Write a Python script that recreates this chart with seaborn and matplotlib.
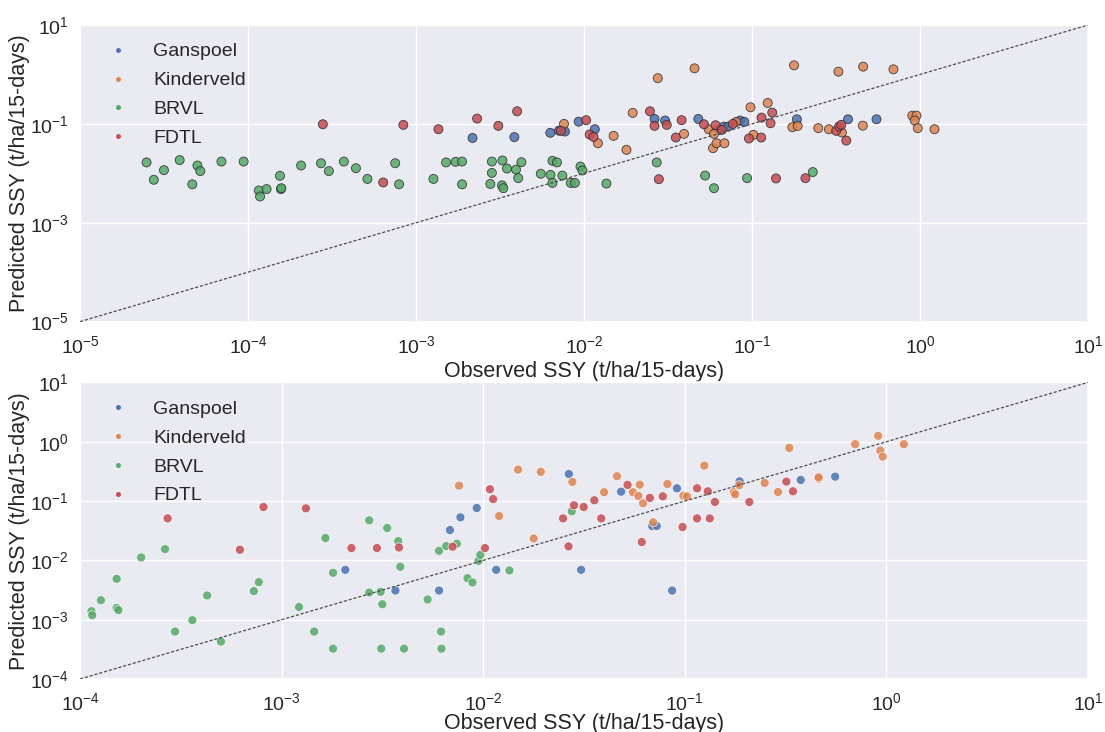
import numpy as np
import pandas as pd
import matplotlib
matplotlib.use("Agg")
import matplotlib.pyplot as plt
from matplotlib.ticker import FixedLocator, NullLocator, LogFormatterSciNotation
import seaborn as sns

# ---------------------------------------------------------------------------
# Calibration run: observed vs predicted SSY (t/ha/15-days)
# ---------------------------------------------------------------------------
sites = ["Ganspoel", "Kinderveld", "BRVL", "FDTL"]

cal_ganspoel_obs = [2.17e-3, 3.85e-3, 6.3e-3, 7.1e-3, 7.7e-3, 9.3e-3, 0.0116, 0.0263, 0.0304,
                    0.0479, 0.0637, 0.068, 0.072, 0.085, 0.090, 0.185, 0.373, 0.551]
cal_ganspoel_pred = [0.052, 0.054, 0.066, 0.073, 0.070, 0.111, 0.078, 0.126, 0.117,
                     0.126, 0.0757, 0.088, 0.088, 0.117, 0.110, 0.124, 0.124, 0.124]

cal_kinderveld_obs = [7.6e-3, 0.0121, 0.0150, 0.0179, 0.0195, 0.0275, 0.0394, 0.0455, 0.0552,
                      0.0586, 0.0594, 0.0615, 0.0685, 0.0807, 0.098, 0.102, 0.124, 0.174,
                      0.178, 0.187, 0.248, 0.287, 0.327, 0.343, 0.457, 0.459, 0.695, 0.90,
                      0.953, 0.93, 0.97, 1.22]
cal_kinderveld_pred = [0.100, 0.0406, 0.0573, 0.0299, 0.167, 0.84, 0.0628, 1.33, 0.078,
                       0.0323, 0.0628, 0.0406, 0.0406, 0.110, 0.217, 0.060, 0.265, 0.0857,
                       1.53, 0.091, 0.082, 0.078, 1.14, 0.067, 0.092, 1.44, 1.27, 0.147,
                       0.147, 0.117, 0.082, 0.078]

cal_brvl_obs = [2.49e-5, 2.75e-5, 3.16e-5, 3.92e-5, 4.66e-5, 5.0e-5, 5.2e-5, 6.95e-5, 9.42e-5,
                1.16e-4, 1.18e-4, 1.29e-4, 1.55e-4, 1.57e-4, 1.58e-4, 2.07e-4, 2.72e-4, 3.03e-4,
                3.72e-4, 4.39e-4, 5.14e-4, 7.52e-4, 7.93e-4, 1.27e-3, 1.51e-3, 1.72e-3, 1.88e-3,
                1.88e-3, 2.83e-3, 2.83e-3, 2.77e-3, 3.27e-3, 3.25e-3, 3.31e-3, 3.48e-3, 3.94e-3,
                4.06e-3, 4.24e-3, 5.53e-3, 6.32e-3, 6.49e-3, 6.9e-3, 6.49e-3, 7.43e-3, 8.34e-3,
                8.83e-3, 9.53e-3, 9.79e-3, 0.0136, 0.0271, 0.0526, 0.0594, 0.0935, 0.230]
cal_brvl_pred = [0.0166, 0.0074, 0.0116, 0.0185, 0.0060, 0.0144, 0.0111, 0.0173, 0.0173,
                 0.0045, 0.0034, 0.0048, 0.0089, 0.0048, 0.0050, 0.0144, 0.0160, 0.0111,
                 0.0173, 0.0127, 0.0077, 0.0160, 0.0060, 0.0077, 0.0166, 0.0171, 0.0173,
                 0.0060, 0.0173, 0.0102, 0.0061, 0.0182, 0.0057, 0.0050, 0.0125, 0.0119,
                 0.0080, 0.0168, 0.0098, 0.0093, 0.0179, 0.0166, 0.0064, 0.0090, 0.0064,
                 0.0064, 0.0137, 0.0114, 0.0062, 0.0166, 0.0090, 0.0050, 0.0080, 0.0106]

cal_fdtl_obs = [2.79e-4, 8.41e-4, 1.36e-3, 2.31e-3, 3.09e-3, 4.0e-3, 6.38e-4, 7.29e-3, 0.0103,
                0.0108, 0.0114, 0.0247, 0.0263, 0.0279, 0.0311, 0.0352, 0.0381, 0.0518,
                0.0607, 0.0662, 0.0769, 0.0959, 0.1135, 0.114, 0.129, 0.132, 0.139, 0.208,
                0.317, 0.330, 0.340, 0.364]
cal_fdtl_pred = [0.0984, 0.0955, 0.078, 0.128, 0.0912, 0.180, 0.00653, 0.0724, 0.119,
                 0.061, 0.0546, 0.180, 0.0912, 0.00762, 0.0955, 0.053, 0.119, 0.0984,
                 0.094, 0.0757, 0.100, 0.0506, 0.053, 0.134, 0.103, 0.169, 0.00787, 0.00798,
                 0.0723, 0.0883, 0.0955, 0.046]

# ---------------------------------------------------------------------------
# Validation run
# ---------------------------------------------------------------------------
val_ganspoel_obs = [2.07e-3, 3.67e-3, 6.04e-3, 6.84e-3, 7.71e-3, 9.29e-3, 0.0116, 0.0266, 0.0306,
                    0.0483, 0.0689, 0.0726, 0.0865, 0.0914, 0.187, 0.376, 0.557]
val_ganspoel_pred = [6.93e-3, 3.1e-3, 3.1e-3, 0.0324, 0.0531, 0.0764, 6.93e-3, 0.286, 6.93e-3,
                     0.144, 0.0379, 0.0379, 3.1e-3, 0.164, 0.215, 0.227, 0.258]

val_kinderveld_obs = [7.59e-3, 0.0120, 0.0149, 0.0178, 0.0193, 0.0277, 0.0398, 0.0461, 0.0553,
                      0.0589, 0.0598, 0.0621, 0.0697, 0.082, 0.0984, 0.1026, 0.125, 0.175,
                      0.178, 0.186, 0.249, 0.290, 0.330, 0.461, 0.461, 0.70, 0.91, 0.933,
                      0.959, 1.22]
val_kinderveld_pred = [0.182, 0.056, 0.339, 0.0234, 0.31, 0.21, 0.141, 0.262, 0.141,
                       0.122, 0.189, 0.0916, 0.0438, 0.194, 0.123, 0.120, 0.396, 0.141,
                       0.130, 0.185, 0.202, 0.142, 0.787, 0.239, 0.251, 0.908, 1.26, 0.71,
                       0.562, 0.908]

val_brvl_obs = [1.14e-4, 1.15e-4, 1.27e-4, 1.52e-4, 1.55e-4, 1.52e-4, 2.01e-4, 2.64e-4, 2.96e-4,
                3.61e-4, 4.27e-4, 5.0e-4, 7.28e-4, 7.71e-4, 1.22e-3, 1.45e-3, 1.65e-3, 1.8e-3,
                1.8e-3, 2.72e-3, 2.72e-3, 3.1e-3, 3.16e-3, 3.12e-3, 3.34e-3, 3.79e-3, 3.88e-3,
                4.05e-3, 5.3e-3, 6.04e-3, 6.18e-3, 6.21e-3, 6.55e-3, 7.4e-3, 8.36e-3, 8.85e-3,
                9.48e-3, 9.68e-3, 0.0135, 0.0275]
val_brvl_pred = [1.39e-3, 1.19e-3, 2.13e-3, 1.58e-3, 1.45e-3, 4.89e-3, 0.0112, 0.0155, 6.31e-4,
                 9.8e-4, 2.56e-3, 4.28e-4, 3.03e-3, 4.3e-3, 1.64e-3, 6.31e-4, 0.0238, 6.18e-3,
                 3.25e-4, 0.0473, 2.87e-3, 2.95e-3, 1.82e-3, 3.25e-4, 0.0351, 0.0211, 7.8e-3,
                 3.25e-4, 2.19e-3, 0.0145, 6.31e-4, 3.25e-4, 0.0174, 0.0191, 5.01e-3, 4.24e-3,
                 9.84e-3, 0.0124, 6.76e-3, 0.0671]

val_fdtl_obs = [2.72e-4, 6.21e-4, 8.13e-4, 1.32e-3, 2.22e-3, 2.97e-3, 3.82e-3, 7.05e-3, 0.0102,
                0.0108, 0.0112, 0.0249, 0.0282, 0.0265, 0.0315, 0.0356, 0.0385, 0.052,
                0.0612, 0.0671, 0.0778, 0.0975, 0.115, 0.115, 0.130, 0.133, 0.141, 0.209,
                0.319, 0.344]
val_fdtl_pred = [0.051, 0.0151, 0.0794, 0.0753, 0.0161, 0.0161, 0.0165, 0.017, 0.0161,
                 0.158, 0.108, 0.051, 0.0847, 0.0172, 0.0794, 0.103, 0.051, 0.187,
                 0.0204, 0.113, 0.120, 0.0365, 0.164, 0.051, 0.146, 0.051, 0.0964, 0.0964,
                 0.213, 0.146]

x_label = "Observed SSY (t/ha/15-days)"
y_label = "Predicted SSY (t/ha/15-days)"


def build_frame(groups):
    frames = []
    for site, (obs, pred) in zip(sites, groups):
        frames.append(pd.DataFrame({"obs": obs, "pred": pred, "site": site}))
    return pd.concat(frames, ignore_index=True)


cal_df = build_frame([(cal_ganspoel_obs, cal_ganspoel_pred),
                      (cal_kinderveld_obs, cal_kinderveld_pred),
                      (cal_brvl_obs, cal_brvl_pred),
                      (cal_fdtl_obs, cal_fdtl_pred)])
val_df = build_frame([(val_ganspoel_obs, val_ganspoel_pred),
                      (val_kinderveld_obs, val_kinderveld_pred),
                      (val_brvl_obs, val_brvl_pred),
                      (val_fdtl_obs, val_fdtl_pred)])

sns.set_theme(style="darkgrid")
plt.rcParams["font.family"] = ["Liberation Sans", "DejaVu Sans"]
plt.rcParams["mathtext.default"] = "regular"

palette = sns.color_palette("deep", 4)
fs_tick = 14
fs_label = 15.5
fs_legend = 14

fig, (ax1, ax2) = plt.subplots(2, 1, figsize=(11.05, 7.32), dpi=100)
fig.subplots_adjust(left=0.0724, right=0.9846, top=0.9658, bottom=0.0724, hspace=0.205)


def style_axis(ax, lo, hi, xt, yt, data, edge, xlabelpad):
    if edge:
        sns.scatterplot(data=data, x="obs", y="pred", hue="site", hue_order=sites,
                        palette=palette, s=42, alpha=0.85, edgecolor="0.15",
                        linewidth=0.6, ax=ax, zorder=2)
    else:
        sns.scatterplot(data=data, x="obs", y="pred", hue="site", hue_order=sites,
                        palette=palette, s=42, alpha=0.85, ax=ax, zorder=2)
    ax.set_xscale("log")
    ax.set_yscale("log")
    ax.plot([lo, hi], [lo, hi], ls=(0, (2.5, 1.5)), color="0.3", lw=0.9, zorder=3)
    ax.set_xlim(lo, hi)
    ax.set_ylim(lo, hi)
    ax.xaxis.set_major_locator(FixedLocator(xt))
    ax.yaxis.set_major_locator(FixedLocator(yt))
    ax.xaxis.set_minor_locator(NullLocator())
    ax.yaxis.set_minor_locator(NullLocator())
    ax.xaxis.set_major_formatter(LogFormatterSciNotation())
    ax.yaxis.set_major_formatter(LogFormatterSciNotation())
    ax.tick_params(axis="x", labelsize=fs_tick)
    ax.tick_params(axis="y", labelsize=fs_tick, pad=2)
    ax.set_xlabel(x_label, fontsize=fs_label, labelpad=xlabelpad)
    ax.set_ylabel(y_label, fontsize=fs_label)
    ax.yaxis.set_label_coords(-0.05, 0.5)
    handles, labels = ax.get_legend_handles_labels()
    for h in handles:
        h.set_markeredgewidth(0)
        h.set_alpha(1)
    ax.legend(handles, labels, loc="upper left", bbox_to_anchor=(0.028, 0.94),
              borderaxespad=0, borderpad=0, frameon=False, fontsize=fs_legend,
              markerscale=0.55, handlelength=1.0, handletextpad=1.3, labelspacing=0.58)


style_axis(ax1, 1e-5, 1e1,
           [1e-5, 1e-4, 1e-3, 1e-2, 1e-1, 1e0, 1e1],
           [1e-5, 1e-3, 1e-1, 1e1], cal_df, edge=True, xlabelpad=3)
style_axis(ax2, 1e-4, 1e1,
           [1e-4, 1e-3, 1e-2, 1e-1, 1e0, 1e1],
           [1e-4, 1e-3, 1e-2, 1e-1, 1e0, 1e1], val_df, edge=False, xlabelpad=-1)

fig.savefig("out.png", dpi=100)
